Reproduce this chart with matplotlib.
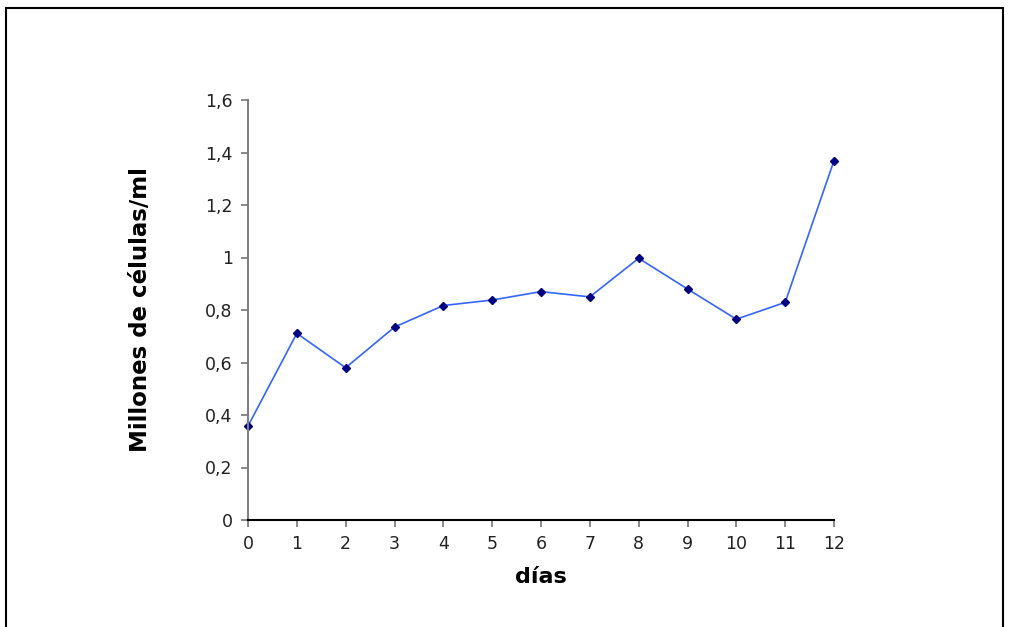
import matplotlib.pyplot as plt
from matplotlib.patches import Rectangle
from matplotlib.ticker import FuncFormatter

dias = [0, 1, 2, 3, 4, 5, 6, 7, 8, 9, 10, 11, 12]
millones = [0.358, 0.711, 0.580, 0.735, 0.817, 0.838, 0.870, 0.850, 0.997, 0.880, 0.765, 0.829, 1.369]

plt.rcParams["font.family"] = "DejaVu Sans"
fig = plt.figure(figsize=(10.1, 6.27), dpi=100)

# chart border (Excel-style frame)
fig.patches.append(Rectangle((6 / 1010, -0.05), 997 / 1010, 1.05 - 8 / 627,
                             transform=fig.transFigure, fill=False,
                             edgecolor='black', linewidth=1.5))

ax = fig.add_axes([248 / 1010, 1 - 520 / 627, 586 / 1010, 420 / 627])
ax.plot(dias, millones, color='#3366ff', linewidth=1.2, marker='D',
        markersize=4.5, markerfacecolor='#000080', markeredgecolor='#000080',
        clip_on=False)

ax.set_xlim(0, 12)
ax.set_ylim(0, 1.6)
ax.set_xticks(dias)
ax.set_yticks([0, 0.2, 0.4, 0.6, 0.8, 1.0, 1.2, 1.4, 1.6])
ax.yaxis.set_major_formatter(FuncFormatter(
    lambda v, p: '0' if v == 0 else ('1' if abs(v - 1) < 1e-9 else f'{v:.1f}'.replace('.', ','))))

for s in ['top', 'right']:
    ax.spines[s].set_visible(False)
ax.spines['left'].set_color('#808080')
ax.spines['left'].set_linewidth(1.5)
ax.spines['bottom'].set_color('black')
ax.spines['bottom'].set_linewidth(1.5)
ax.tick_params(axis='both', direction='out', length=5, width=1.3,
               color='#808080', labelsize=12.5, labelcolor='#222222')
ax.tick_params(axis='x', pad=6)
ax.tick_params(axis='y', pad=6)

ax.set_xlabel('días', fontsize=16, fontweight='bold', labelpad=10)
ax.set_ylabel('Millones de células/ml', fontsize=16.5, fontweight='bold', labelpad=38)

fig.savefig('out.png', dpi=100)
